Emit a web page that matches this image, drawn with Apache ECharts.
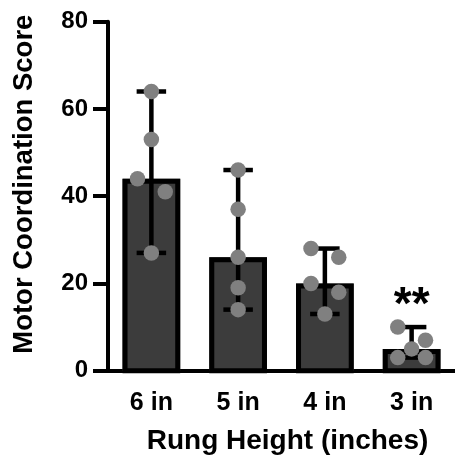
<!DOCTYPE html>
<html>
<head>
<meta charset="utf-8">
<script src="https://cdn.jsdelivr.net/npm/echarts@6/dist/echarts.min.js"></script>
<style>
  html, body { margin: 0; padding: 0; background: #fff; }
  #chart { width: 455px; height: 462px; }
</style>
</head>
<body>
<div id="chart"></div>
<script>
// ---- data ----
const categories = ['6 in', '5 in', '4 in', '3 in'];
const score6in = [64, 53, 44, 41, 27];
const score5in = [46, 37, 26, 19, 14];
const score4in = [28, 26, 20, 18, 13];
const score3in = [10, 7, 5, 3, 3];
const significance = ['', '', '', '**'];
const yTickValues = [0, 20, 40, 60, 80];

// ---- layout (dot jitter side: -1 left, 0 centre, 1 right) ----
const dotSide = [
  [0, 0, -1, 1, 0],
  [0, 0, 0, 0, 0],
  [-1, 1, -1, 1, 0],
  [-1, 1, 0, -1, 1]
];
const JITTER = 0.16; // in category units

const groups = [score6in, score5in, score4in, score3in];
function median(a) {
  const s = a.slice().sort((x, y) => x - y);
  const m = Math.floor(s.length / 2);
  return s.length % 2 ? s[m] : (s[m - 1] + s[m]) / 2;
}
const medians = groups.map(median);
const mins = groups.map(g => Math.min.apply(null, g));
const maxs = groups.map(g => Math.max.apply(null, g));

const barData = categories.map((c, i) => [i, medians[i]]);
const errData = categories.map((c, i) => [i, mins[i], maxs[i]]);
const dotData = [];
groups.forEach((g, i) => g.forEach((v, j) => dotData.push([i + dotSide[i][j] * JITTER, v])));

const FONT = "'Liberation Sans', Arial, Helvetica, sans-serif";
const chart = echarts.init(document.getElementById('chart'), null, { renderer: 'canvas' });

chart.setOption({
  animation: false,
  backgroundColor: '#ffffff',
  grid: { left: 108, right: -2, top: 21.7, bottom: 91.3, containLabel: false },
  xAxis: [{
    type: 'category',
    data: categories,
    name: 'Rung Height (inches)',
    nameLocation: 'middle',
    nameGap: 57,
    nameTextStyle: { fontFamily: FONT, fontWeight: 'bold', fontSize: 28, color: '#000', padding: [0, 0, 0, 12] },
    axisLine: { onZero: false, lineStyle: { color: '#000', width: 4 } },
    axisTick: { alignWithLabel: true, length: 14, lineStyle: { color: '#000', width: 4 } },
    axisLabel: { fontFamily: FONT, fontWeight: 'bold', fontSize: 25, color: '#000', margin: 20 },
    splitLine: { show: false }
  }, {
    type: 'value',
    min: -0.5, max: 3.5,
    show: false
  }],
  yAxis: {
    type: 'value',
    min: 0, max: 80, interval: 20,
    name: 'Motor Coordination Score',
    nameLocation: 'middle',
    nameGap: 70,
    nameRotate: 90,
    nameTextStyle: { fontFamily: FONT, fontWeight: 'bold', fontSize: 27.5, color: '#000', padding: [0, 0, 0, 24] },
    axisLine: { show: true, onZero: false, lineStyle: { color: '#000', width: 4 } },
    axisTick: { show: true, length: 15, lineStyle: { color: '#000', width: 4 } },
    axisLabel: {
      fontFamily: FONT, fontWeight: 'bold', fontSize: 24, color: '#000', margin: 20,
      formatter: v => yTickValues.indexOf(v) >= 0 ? String(v) : ''
    },
    splitLine: { show: false }
  },
  series: [{
    type: 'custom',
    name: 'median',
    xAxisIndex: 0,
    z: 2,
    data: barData,
    renderItem: function (params, api) {
      const i = api.value(0);
      const top = api.coord([i, api.value(1)]);
      const base = api.coord([i, 0]);
      const w = api.size([1, 0])[0] * 0.665;
      const lw = 5;
      return {
        type: 'group',
        children: [{
          type: 'rect',
          shape: { x: top[0] - w / 2, y: top[1], width: w, height: base[1] - top[1] },
          style: { fill: '#3c3c3c' }
        }, {
          type: 'rect',
          shape: { x: top[0] - w / 2 + lw / 2, y: top[1] + lw / 2, width: w - lw, height: base[1] - top[1] - lw / 2 },
          style: { fill: null, stroke: '#000', lineWidth: lw }
        }]
      };
    }
  }, {
    type: 'custom',
    name: 'range',
    xAxisIndex: 0,
    z: 3,
    data: errData,
    renderItem: function (params, api) {
      const i = api.value(0);
      const lo = api.coord([i, api.value(1)]);
      const hi = api.coord([i, api.value(2)]);
      const cw = api.size([1, 0])[0] * 0.34;
      const st = { stroke: '#000', lineWidth: 4.5 };
      const children = [
        { type: 'line', shape: { x1: lo[0], y1: lo[1], x2: hi[0], y2: hi[1] }, style: st },
        { type: 'line', shape: { x1: hi[0] - cw / 2, y1: hi[1], x2: hi[0] + cw / 2, y2: hi[1] }, style: st },
        { type: 'line', shape: { x1: lo[0] - cw / 2, y1: lo[1], x2: lo[0] + cw / 2, y2: lo[1] }, style: st }
      ];
      const sig = significance[params.dataIndex];
      if (sig) {
        children.push({
          type: 'text',
          style: {
            text: sig, x: hi[0], y: hi[1] - 21,
            align: 'center', verticalAlign: 'middle',
            font: 'bold 46px ' + FONT, fill: '#000'
          }
        });
      }
      return { type: 'group', children: children };
    }
  }, {
    type: 'scatter',
    name: 'scores',
    xAxisIndex: 1,
    z: 4,
    symbol: 'circle',
    symbolSize: 15.5,
    itemStyle: { color: '#808080', opacity: 1 },
    data: dotData
  }]
});
</script>
</body>
</html>
